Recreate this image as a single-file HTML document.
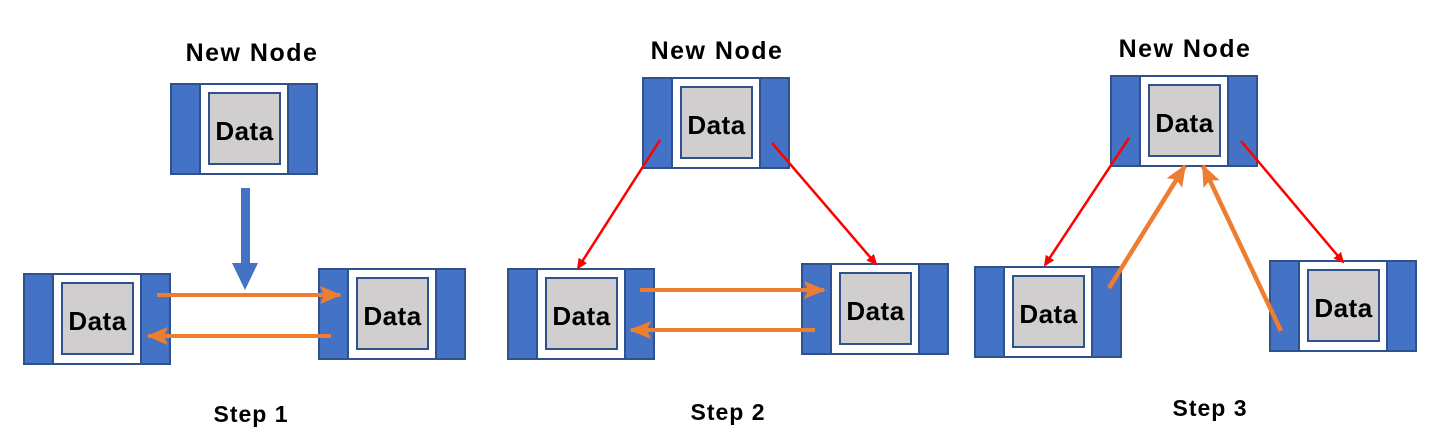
<!DOCTYPE html>
<html><head><meta charset="utf-8"><style>
html,body{margin:0;padding:0;background:#fff;}
svg{display:block;}
text{font-family:"Liberation Sans","Noto Sans CJK KR",sans-serif;font-weight:bold;fill:#000;}
</style></head><body>
<svg width="1431" height="439" viewBox="0 0 1431 439" xmlns="http://www.w3.org/2000/svg">
<defs>
<g id="node">
<rect x="1" y="1" width="146" height="90" fill="#4472C4" stroke="#2F528F" stroke-width="2"/>
<rect x="30" y="1" width="88" height="90" fill="#fff" stroke="#2F528F" stroke-width="2"/>
<rect x="39" y="10" width="71" height="71" fill="#D0CECE" stroke="#2F528F" stroke-width="2"/>
<text x="74.5" y="57" font-size="26" text-anchor="middle" letter-spacing="0.5">Data</text>
</g>
<marker id="ro" markerWidth="11" markerHeight="10" refX="9" refY="5" orient="auto" markerUnits="userSpaceOnUse" viewBox="0 0 11 10"><path d="M0,0 L11,5 L0,10 Z" fill="#FF0000"/></marker>
<marker id="oo" markerWidth="22" markerHeight="18" refX="20" refY="9" orient="auto" markerUnits="userSpaceOnUse" viewBox="0 0 22 18"><path d="M0,0 L22,9 L0,18 L4,9 Z" fill="#ED7D31"/></marker>
</defs>

<!-- Step 1 -->
<text x="252" y="61" font-size="25" text-anchor="middle" letter-spacing="1.5">New Node</text>
<use href="#node" x="170" y="83"/>
<use href="#node" x="23" y="273"/>
<use href="#node" x="318" y="268"/>
<rect x="241" y="188" width="9" height="76" fill="#4472C4"/>
<path d="M232,263 L258,263 L245,290 Z" fill="#4472C4"/>
<line x1="157" y1="295" x2="340" y2="295" stroke="#ED7D31" stroke-width="4" marker-end="url(#oo)"/>
<line x1="331" y1="336" x2="148" y2="336" stroke="#ED7D31" stroke-width="4" marker-end="url(#oo)"/>
<text x="251" y="422" font-size="23" text-anchor="middle" letter-spacing="1">Step  1</text>

<!-- Step 2 -->
<text x="717" y="59" font-size="25" text-anchor="middle" letter-spacing="1.5">New Node</text>
<use href="#node" x="642" y="77"/>
<use href="#node" x="507" y="268"/>
<use href="#node" x="801" y="263"/>
<line x1="660" y1="140" x2="578" y2="268" stroke="#FF0000" stroke-width="2.5" marker-end="url(#ro)"/>
<line x1="772" y1="143" x2="876" y2="264" stroke="#FF0000" stroke-width="2.5" marker-end="url(#ro)"/>
<line x1="640" y1="290" x2="824" y2="290" stroke="#ED7D31" stroke-width="4" marker-end="url(#oo)"/>
<line x1="815" y1="330" x2="631" y2="330" stroke="#ED7D31" stroke-width="4" marker-end="url(#oo)"/>
<text x="728" y="420" font-size="23" text-anchor="middle" letter-spacing="1">Step  2</text>

<!-- Step 3 -->
<text x="1185" y="57" font-size="25" text-anchor="middle" letter-spacing="1.5">New Node</text>
<use href="#node" x="1110" y="75"/>
<use href="#node" x="974" y="266"/>
<use href="#node" x="1269" y="260"/>
<line x1="1129" y1="138" x2="1045" y2="265" stroke="#FF0000" stroke-width="2.5" marker-end="url(#ro)"/>
<line x1="1241" y1="141" x2="1343" y2="262" stroke="#FF0000" stroke-width="2.5" marker-end="url(#ro)"/>
<line x1="1109" y1="288" x2="1185" y2="166" stroke="#ED7D31" stroke-width="4.5" marker-end="url(#oo)"/>
<line x1="1281" y1="331" x2="1203" y2="166" stroke="#ED7D31" stroke-width="4.5" marker-end="url(#oo)"/>
<text x="1210" y="416" font-size="23" text-anchor="middle" letter-spacing="1">Step  3</text>
</svg>
</body></html>
